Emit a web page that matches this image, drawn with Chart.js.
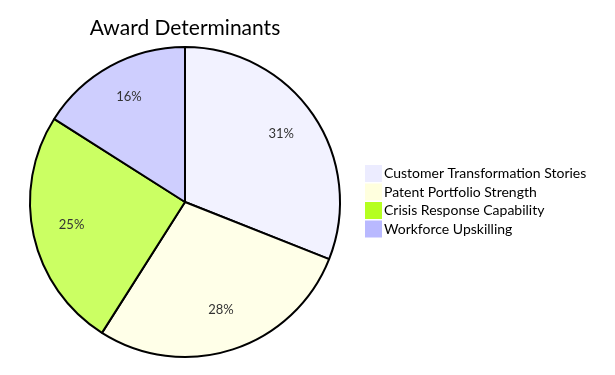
<!DOCTYPE html>
<html>
<head>
<meta charset="utf-8">
<script src="https://cdn.jsdelivr.net/npm/chart.js@4"></script>
<style>
  html, body { margin: 0; padding: 0; background: #fff; }
  #chart { display: block; }
</style>
</head>
<body>
<canvas id="chart" width="615" height="375"></canvas>
<script>
(function() {
    'use strict';

    var chartTitle = 'Award Determinants';
    var categories = [
        'Customer Transformation Stories',
        'Patent Portfolio Strength',
        'Crisis Response Capability',
        'Workforce Upskilling'
    ];
    var shares = [31, 28, 25, 16];
    var legendColors = ['#ececff', '#ffffde', '#b5ff20', '#b9b9ff'];
    var sliceColors = ['#f2f2ff', '#ffffe8', '#cbff63', '#cecefe'];

    var fontFamily = "Lato, 'DejaVu Sans', sans-serif";

    // labels inside slices, title and legend drawn by hand
    var decorPlugin = {
        id: 'decor',
        afterDatasetsDraw: function(chart) {
            var ctx = chart.ctx;
            var meta = chart.getDatasetMeta(0);
            var total = shares.reduce(function(a, b) { return a + b; }, 0);

            ctx.save();
            ctx.font = '13px ' + fontFamily;
            ctx.fillStyle = '#333';
            ctx.textAlign = 'center';
            ctx.textBaseline = 'middle';
            meta.data.forEach(function(arc, i) {
                var mid = (arc.startAngle + arc.endAngle) / 2;
                var r = arc.outerRadius * 0.75;
                var x = arc.x + Math.cos(mid) * r;
                var y = arc.y + Math.sin(mid) * r - 3;
                ctx.fillText(Math.round(shares[i] / total * 100) + '%', x, y);
            });

            ctx.font = '21px ' + fontFamily;
            ctx.fillStyle = '#000';
            ctx.fillText(chartTitle, meta.data[0].x, 28);

            ctx.textAlign = 'left';
            ctx.font = '14px ' + fontFamily;
            categories.forEach(function(label, i) {
                var y = 165 + i * 18.5;
                ctx.fillStyle = legendColors[i];
                ctx.fillRect(365, y, 17, 17);
                ctx.fillStyle = '#000';
                ctx.fillText(label, 384, y + 8.5);
            });
            ctx.restore();
        }
    };

    new Chart(document.getElementById('chart'), {
        type: 'pie',
        data: {
            labels: categories,
            datasets: [{
                data: shares,
                backgroundColor: sliceColors,
                borderColor: '#000',
                borderWidth: 2
            }]
        },
        options: {
            responsive: false,
            animation: false,
            layout: {
                padding: { top: 46, left: 29, right: 274, bottom: 17 }
            },
            plugins: {
                legend: { display: false },
                title: { display: false },
                tooltip: { enabled: false }
            }
        },
        plugins: [decorPlugin]
    });
})();
</script>
</body>
</html>
